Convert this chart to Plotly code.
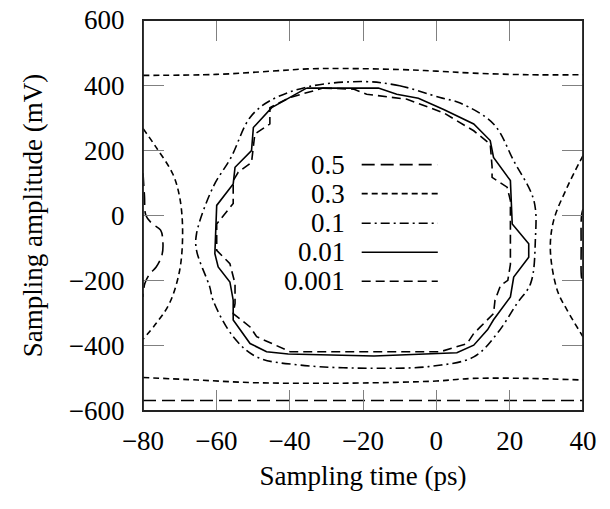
import plotly.graph_objects as go

# ---------------- data ----------------
x_ticks = [-80, -60, -40, -20, 0, 20, 40]
x_tick_labels = ["−80", "−60", "−40", "−20", "0", "20", "40"]
y_ticks = [-600, -400, -200, 0, 200, 400, 600]
y_tick_labels = ["−600", "−400", "−200", "0", "200", "400", "600"]

levels = ["0.5", "0.3", "0.1", "0.01", "0.001"]

# BER = 0.5
t_05_bottom = [-80, -60, -40, -20, 0, 20, 40]
v_05_bottom = [-568, -568, -568, -568, -568, -568, -568]
t_05_left = [-80, -79.6, -79.2, -77.5, -75.2, -74.6, -74.8, -76.4, -78.2, -79.5, -80]
v_05_left = [130, 60, 0, -25, -45, -77, -120, -158, -180, -209, -250]
t_05_right = [40, 39.6, 39.5, 39.6, 40]
v_05_right = [20, 0, -100, -190, -205]

# BER = 0.3
t_03_top = [-80, -60, -45, -35, -25, -10, 0, 10, 25, 40]
v_03_top = [430, 433, 443, 450, 451, 448, 443, 437, 432, 432]
t_03_bottom = [-80, -65, -50, -35, -20, 0, 10, 25, 40]
v_03_bottom = [-497, -505, -513, -515, -514, -508, -500, -500, -505]
t_03_left = [-80, -76.4, -71.9, -70.0, -69.2, -70.0, -72.8, -76.4, -80]
v_03_left = [267, 209, 128, 56, -46, -168, -270, -331, -380]
t_03_right = [40, 35.7, 32.0, 31.1, 33.0, 35.7, 40]
v_03_right = [184, 87, -15, -107, -230, -291, -372]

# BER = 0.1
t_01 = [-20, -10, 1, 6.5, 15.6, 21.1, 26.6, 27.0, 25.7, 22.0, 16.6, 10.2, -0.8,
        -14.4, -37.2, -49.0, -55.4, -60.9, -61.8, -65.4, -65.4, -60.9, -56.0,
        -50.8, -45.4, -35.0, -20]
v_01 = [411, 398, 362, 345, 281, 168, 46, -77, -209, -270, -362, -434, -462,
        -469, -459, -434, -372, -260, -219, -107, -56, 87, 178,
        301, 352, 395, 411]

# BER = 0.01
t_001 = [-35.4, -15.8, -10.8, -4.9, 2.0, 10.2, 14.7, 15.6, 20.2, 20.7, 25.2,
         25.2, 21.1, 20.2, 15.6, 14.0, 10.2, 5.6, -17.0, -40.4, -46.3, -50.8,
         -55.4, -55.4, -56.3, -59.5, -60.4, -59.9, -55.4, -54.9, -50.4, -49.9,
         -44.9, -40.8, -35.4]
v_001 = [391, 391, 372, 360, 325, 281, 230, 178, 107, -26, -87,
         -128, -189, -250, -320, -350, -398, -421, -431, -425, -418, -393,
         -321, -260, -204, -158, -117, 31, 97, 148, 199, 270,
         331, 357, 391]

# BER = 0.001
t_0001 = [-30.9, -22.6, -19.0, -8.0, 2.0, 10.2, 14.7, 15.2, 15.2, 19.3, 20.2,
          20.2, 19.5, 17.5, 16.0, 15.6, 12.0, 10.2, 8.4, 1.1, -39.9, -49.0,
          -50.8, -55.4, -54.9, -54.9, -56.3, -59.9, -59.9, -55.4, -55.4, -54.0,
          -50.4, -49.5, -45.4, -45.4, -40.0, -30.9]
v_0001 = [391, 388, 372, 357, 315, 260, 219, 150, 117, 87, 46,
          -150, -199, -215, -260, -301, -342, -362, -393, -418, -418, -372,
          -342, -301, -270, -209, -148, -107, -26, 37, 107, 133,
          163, 250, 281, 331, 362, 391]

# ---------------- styles ----------------
FONT = "'Liberation Serif', 'DejaVu Serif', serif"
FS = 27
dash = {
    "0.5": "13px,6px",
    "0.3": "6px,4px",
    "0.1": "9px,4px,2px,4px",
    "0.01": "solid",
    "0.001": "9px,5px",
}
LW = 1.6

fig = go.Figure()

def add(t, v, lev, shape="linear"):
    fig.add_trace(go.Scatter(
        x=t, y=v, mode="lines", showlegend=False, hoverinfo="skip",
        line=dict(color="black", width=LW, dash=dash[lev], shape=shape),
        cliponaxis=True,
    ))

add(t_05_bottom, v_05_bottom, "0.5")
add(t_05_left, v_05_left, "0.5", "spline")
add(t_05_right, v_05_right, "0.5", "spline")
add(t_03_top, v_03_top, "0.3", "spline")
add(t_03_bottom, v_03_bottom, "0.3", "spline")
add(t_03_left, v_03_left, "0.3", "spline")
add(t_03_right, v_03_right, "0.3", "spline")
add(t_01, v_01, "0.1", "spline")
add(t_001, v_001, "0.01")
add(t_0001, v_0001, "0.001")

# ---------------- manual legend (text left, line sample right) ----------------
leg_y = [0.630, 0.556, 0.480, 0.406, 0.332]
for lev, yy in zip(levels, leg_y):
    fig.add_annotation(
        x=0.463, y=yy, xref="paper", yref="paper", text=lev,
        showarrow=False, xanchor="right", yanchor="middle",
        font=dict(family=FONT, size=FS, color="black"),
    )
    fig.add_shape(
        type="line", xref="paper", yref="paper",
        x0=0.497, x1=0.670, y0=yy, y1=yy,
        line=dict(color="black", width=LW, dash=dash[lev]),
    )

# plot frame
fig.add_shape(type="rect", xref="paper", yref="paper", x0=0, x1=1, y0=0, y1=1,
              line=dict(color="#222222", width=1.8), layer="above")

axis_common = dict(
    showgrid=False, zeroline=False, automargin=False,
    ticks="inside", ticklen=21, tickwidth=1, tickcolor="#808080",
    showline=True, linecolor="#222222", linewidth=1.3, mirror="ticks",
    tickfont=dict(family=FONT, size=FS, color="black"),
    ticklabeloverflow="allow",
)

fig.update_layout(
    width=610, height=509,
    margin=dict(l=143, r=27, t=20, b=98),
    paper_bgcolor="white", plot_bgcolor="white",
    font=dict(family=FONT, size=FS, color="black"),
    xaxis=dict(
        range=[-80, 40], tickvals=x_ticks, ticktext=x_tick_labels,
        ticklabelstandoff=5,
        title=dict(text="Sampling time (ps)", font=dict(family=FONT, size=FS), standoff=11),
        **axis_common,
    ),
    yaxis=dict(
        range=[-600, 600], tickvals=y_ticks, ticktext=y_tick_labels,
        ticklabelstandoff=12,
        title=dict(text="Sampling amplitude (mV)", font=dict(family=FONT, size=FS), standoff=18),
        **axis_common,
    ),
)

# remove the page's default body margin so the figure fills the window
fig.write_html("out.html", config={"displayModeBar": False},
               post_script="document.body.style.margin='0px';")
